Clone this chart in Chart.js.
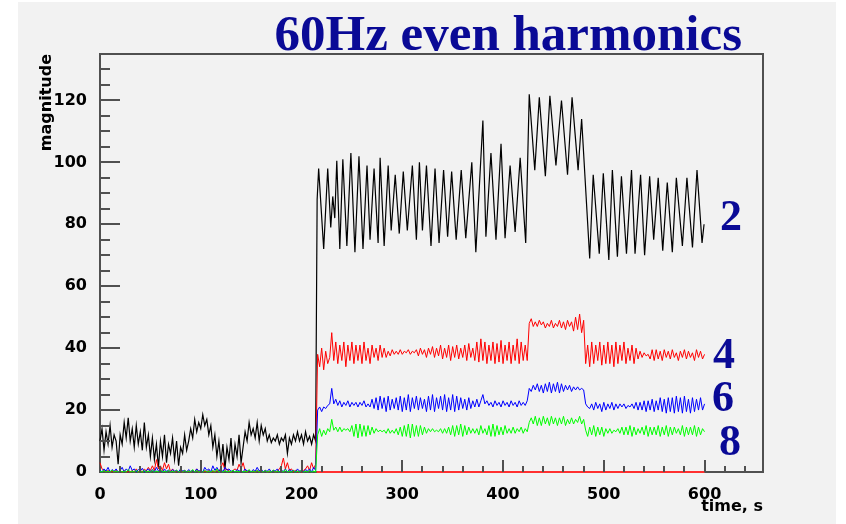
<!DOCTYPE html>
<html>
<head>
<meta charset="utf-8">
<title>60Hz even harmonics</title>
<script src="https://cdn.jsdelivr.net/npm/chart.js@4.4.1/dist/chart.umd.min.js"></script>
<style>
  html, body { margin: 0; padding: 0; background: #ffffff; }
  #wrap { width: 846px; height: 524px; }
</style>
</head>
<body>
<div id="wrap"><canvas id="harmonics" width="846" height="524"></canvas></div>
<script>
// Harmonic magnitudes, sampled every 2 s from 0 to 600 s
const sampleStep = 2;

// 4th harmonic (red)
const h4Values = [
  3, 1, 0.5, 0, 0.5, 0, 0.3, 0, 0.5, 0,
  0.3, 0, 0.5, 0, 0.2, 0, 0.5, 0, 1, 0,
  0.5, 0, 1, 0.3, 1.5, 0.5, 2, 0.5, 4, 1,
  2, 0.5, 3, 1, 2.5, 0, 1, 0, 0.3, 0,
  0.2, 0, 0.5, 0, 0.3, 0, 0.5, 0, 1, 0,
  0.5, 0, 0.3, 0, 0.5, 0, 0.3, 0, 0.5, 0,
  1.5, 3, 0.5, 1, 0.3, 0, 0.5, 1, 0.5, 2.5,
  1, 3, 0.5, 0, 0.5, 0, 0.3, 0, 0.5, 0,
  0.3, 0, 0.5, 0, 0.3, 0, 0.5, 0, 0.3, 1,
  2, 4.5, 1, 3, 0.5, 1, 0, 0.5, 0, 0.3,
  0, 0.5, 1, 2, 0.5, 3, 1, 2.5,
  38, 34, 40, 33, 39, 35, 37, 45, 36, 42,
  35, 41, 36, 42, 34, 41, 36, 42, 35, 41,
  36, 41, 35, 42, 36, 40, 35, 41, 37, 40,
  36, 41, 37, 40, 37, 39, 37.5, 39.5, 38, 39,
  38, 39.5, 38, 39, 38.5, 39.5, 38, 39, 38.5, 39.5,
  37.5, 40, 38, 39.5, 37, 40, 38, 40.5, 37, 40,
  37.5, 41, 36.5, 40, 37, 41, 36, 40.5, 37, 41,
  36.5, 40, 37, 41, 36, 41.5, 37, 40, 36, 42,
  35.5, 43, 36, 42, 35, 41, 36, 42, 35, 41.5,
  35.5, 42.5, 35, 41, 36, 42, 35, 41, 36, 43,
  35, 42, 36, 41, 36, 48, 49.5, 47, 48.5, 47,
  49, 47.5, 48.5, 46.5, 48, 47, 49, 46.5, 48, 47,
  49, 46.5, 48.5, 46, 49, 47, 48.5, 45.5, 50, 46,
  51, 45, 49, 35, 41, 34, 42, 35, 41, 36,
  42, 34.5, 41, 35, 42, 35, 41, 34, 42, 35,
  41, 36, 42, 35, 40, 36, 41, 35, 40, 36.5,
  39, 37, 38.5, 37.5, 38, 36.5, 39.5, 36, 39.5, 36.5,
  39, 36, 39.5, 37, 39, 36.5, 39.5, 37, 38.5, 36,
  39, 37, 39.5, 36.5, 39, 37, 38.5, 36, 39.5, 37,
  39, 36.5, 38
];

// 6th harmonic (blue)
const h6Values = [
  0.5, 0, 1, 0.3, 1.5, 0, 0.8, 0.2, 1, 0,
  0.5, 1.5, 0, 1, 0.3, 2, 0.5, 1, 0, 0.8,
  0.3, 1.2, 0, 0.5, 1, 0.2, 0.8, 0, 1.5, 0.3,
  0.5, 0, 1, 0.2, 0.6, 0, 0.8, 0.3, 0.5, 0,
  1, 0.3, 0.5, 0, 0.8, 0.2, 0.5, 0, 1, 0.3,
  0.5, 0, 1.5, 0.5, 1, 0, 2, 0.5, 1.5, 0.3,
  1, 0, 1.5, 0.5, 1, 0.2, 0.5, 0, 0.8, 0.3,
  0.5, 0, 1, 0.3, 0.5, 0, 0.8, 0.2, 1.5, 0.3,
  1, 0, 0.5, 0.2, 1, 0, 0.5, 0.3, 1, 0,
  0.5, 0.2, 1, 0, 0.8, 0.3, 0.5, 0, 1, 0.2,
  0.5, 0, 0.8, 0.3, 1, 0, 1.5, 0.5,
  20, 21, 19.5, 21, 20.5, 21.5, 22, 27, 22, 23.5,
  21.5, 23, 21, 22.5, 21.5, 23, 21, 22.5, 21.5, 22.5,
  21, 22.5, 21.5, 23, 21, 22, 21, 23.5, 20.5, 24,
  20, 24.5, 20.5, 24, 19.5, 24.5, 20, 23.5, 20.5, 24,
  20, 24.5, 19.5, 24, 20, 25, 19.5, 24, 20.5, 24.5,
  20, 24, 20.5, 23.5, 19.5, 24.5, 20, 25, 19.5, 24,
  20.5, 24.5, 20, 25, 19.5, 24, 20, 25, 19.5, 24.5,
  20, 24, 20.5, 23.5, 20, 24, 20.5, 23, 21, 23.5,
  21, 23, 25, 22, 23, 21.5, 22.5, 21, 23, 21.5,
  22.5, 21, 23, 21.5, 22.5, 21, 23, 21.5, 22.5, 21,
  23, 21.5, 22.5, 21.5, 23, 27, 26, 28, 26.5, 28.5,
  26, 28, 25.5, 28.5, 26, 29, 25.5, 28.5, 26, 29,
  25.5, 28.5, 26, 28, 26.5, 28, 26, 27.5, 26.5, 27.5,
  26.5, 27, 26.5, 22, 21, 20.5, 22, 20, 22.5, 20.5,
  22, 19.5, 22.5, 20, 22, 20.5, 22.5, 20, 22, 20.5,
  22, 21, 22, 20.5, 21.5, 21, 22, 20.5, 22.5, 20,
  22.5, 20, 23, 19.5, 23, 20, 23.5, 19.5, 23, 20,
  24, 19.5, 23.5, 19, 24, 19.5, 24, 19, 24.5, 19.5,
  24, 19, 24.5, 19.5, 23.5, 19, 24, 19.5, 23.5, 20,
  24, 20, 22
];

// 8th harmonic (green)
const h8Values = [
  0.3, 0, 0.5, 0, 0.3, 0, 0.6, 0, 0.3, 0,
  0.5, 0, 0.3, 0, 0.8, 0, 0.3, 0, 0.5, 0,
  0.3, 0, 0.5, 0, 0.3, 0, 0.6, 0, 0.3, 0,
  0.8, 0, 0.3, 0, 0.5, 0, 0.3, 0, 0.6, 0,
  0.3, 0, 0.5, 0, 0.3, 0, 0.8, 0, 0.5, 0,
  0.3, 0, 0.6, 0, 0.3, 0, 0.5, 0, 1, 0,
  0.3, 0, 0.5, 0, 0.3, 0, 0.6, 0, 0.3, 0,
  0.5, 0, 0.3, 0, 0.8, 0, 0.3, 0, 0.5, 0,
  0.3, 0, 0.5, 0, 0.3, 0, 0.6, 0, 0.3, 0,
  0.5, 0, 0.8, 0, 0.3, 0, 0.5, 0, 0.3, 0,
  0.6, 0, 0.3, 0, 0.5, 0, 0.3, 0,
  12, 14, 11.5, 13.5, 12, 14, 13, 17, 13.5, 14.5,
  13, 14.5, 13, 14, 13.5, 14, 13, 15, 11.5, 15.5,
  11, 15.5, 11.5, 15, 11.5, 15, 12, 14.5, 12.5, 14,
  13, 13.5, 13, 13.5, 12.5, 14, 12.5, 13.5, 12.5, 14,
  12, 14.5, 11.5, 15, 11.5, 15.5, 11, 15.5, 11.5, 15,
  11.5, 15, 12, 14.5, 12.5, 14, 13, 14, 13, 13.5,
  13, 14, 12.5, 14, 12.5, 14.5, 12, 15, 11.5, 15,
  12, 15.5, 11.5, 15, 12, 14.5, 12.5, 14, 12.5, 14,
  12, 15, 12.5, 14, 12, 15, 11.5, 15.5, 11.5, 15,
  12, 14.5, 12, 15, 12.5, 14, 12.5, 14.5, 12.5, 14,
  13, 14.5, 12.5, 14, 13, 16, 17.5, 15.5, 18, 15,
  17.5, 15, 18, 15.5, 17.5, 15, 18, 15.5, 17.5, 15,
  17.5, 15.5, 18, 15, 17, 15.5, 17.5, 15.5, 17, 16,
  18, 15.5, 17, 13.5, 11.5, 14.5, 12, 15, 11.5, 14.5,
  12, 14.5, 11.5, 14, 12.5, 14, 12.5, 13.5, 13, 14,
  12.5, 14.5, 12, 14.5, 12, 15, 11.5, 14.5, 12, 14,
  12.5, 14.5, 12, 15, 11.5, 14.5, 12, 14.5, 12, 15,
  11.5, 14.5, 12, 15, 11.5, 14.5, 12, 14.5, 12.5, 14,
  12, 15, 11.5, 14.5, 12, 14.5, 12, 15, 11.5, 14.5,
  12, 14, 13
];

// 2nd harmonic (black): noisy part on the 2 s grid, 0..214 s
const h2NoiseValues = [
  10, 14, 7, 13, 9, 15, 8, 12, 10, 2.5,
  12, 9, 16, 11, 17.5, 10, 14, 8, 15, 9,
  13, 7, 16, 8, 12, 5, 11, 4, 9, 1.5,
  10, 5, 12, 3, 9, 6, 11, 4, 10, 2,
  8, 6, 12, 7, 10, 14, 11, 17, 13, 16,
  14, 18.5, 15, 17, 12, 15, 8, 12, 5, 10,
  3, 9, 1, 8, 4, 11, 2, 9, 5, 12,
  3, 8, 13, 10, 16, 12, 14, 11, 16, 10,
  15, 12, 14, 10, 12, 9.5, 11, 10, 12, 9,
  11, 10, 12, 6, 11, 9, 12, 10, 13, 10,
  12, 9, 13, 10, 11.5, 9, 12, 10
];

// 2nd harmonic after the switch-on: swing extremes (time s, magnitude)
const h2SwingTimes = [
  215.5, 217, 222, 226, 229, 231, 233, 235, 238, 241,
  245, 249, 253, 257, 261, 265, 268, 272, 276, 278,
  282, 286, 289, 293, 297, 301, 305, 310, 314, 317,
  320, 324, 328.5, 332.5, 336.5, 341, 345, 349, 353.5, 358.5,
  363, 369, 373, 380, 383, 388, 393, 398, 402, 407,
  412, 417, 422.5, 426, 431.5, 436, 442, 446.5, 452.5, 458,
  464, 468.5, 474.5, 478, 486, 489.5, 495.5, 499.5, 505, 508.5,
  513.5, 517.5, 522.5, 527.5, 531, 536.5, 540.5, 545.5, 549.5, 554,
  558.5, 563, 568, 572, 578, 582.5, 588, 592.5, 597.5, 599.5
];
const h2SwingValues = [
  88, 98, 72, 98, 79, 89, 82, 100.5, 72, 101,
  73, 103, 71, 102, 72, 99, 75, 98, 74, 101.5,
  73, 99, 78, 96, 77, 97, 78, 99, 75, 100,
  78, 99, 73, 98, 74, 97.5, 76, 97, 75, 97.5,
  75.5, 100, 71, 113.5, 76, 103, 75, 106, 75.5, 99,
  77.5, 101.5, 74, 122, 97.5, 121, 95.5, 121.5, 99, 120,
  96, 121, 97.5, 114, 69, 96, 70.5, 96.5, 68.5, 97.5,
  69.5, 95.5, 70.5, 97.5, 70.5, 96, 70, 95.5, 75, 95,
  71.5, 93.5, 71, 95, 73, 95, 72.5, 97.5, 74, 80
];

// zero line of the 4th harmonic histogram after switch-on
const baselineTimes = [215, 600];
const baselineValues = [0, 0];

const xTicks = [0, 100, 200, 300, 400, 500, 600];
const yTicks = [0, 20, 40, 60, 80, 100, 120];
const seriesLabels = ['2', '4', '6', '8'];

function onGrid(values) {
  return values.map((v, i) => ({ x: i * sampleStep, y: v }));
}
function pairs(times, values) {
  return times.map((t, i) => ({ x: t, y: values[i] }));
}

const h2Points = onGrid(h2NoiseValues).concat(pairs(h2SwingTimes, h2SwingValues));

const ink = '#0a0a96';
const tickFont = { family: 'DejaVu Sans', weight: 'bold', size: 16 };

// frame, inner tick marks and the blue annotations
const framePlugin = {
  id: 'framePlugin',
  beforeDraw(chart) {
    const ctx = chart.ctx;
    ctx.save();
    ctx.fillStyle = '#f2f2f2';
    ctx.fillRect(18, 2, 818, 522);
    ctx.restore();
  },
  beforeDatasetsDraw(chart) {
    const { ctx, chartArea: a } = chart;
    ctx.save();
    ctx.strokeStyle = '#505050';
    ctx.lineWidth = 2;
    ctx.strokeRect(a.left, a.top, a.right - a.left, a.bottom - a.top);
    ctx.restore();
  },
  afterDatasetsDraw(chart) {
    const { ctx, chartArea: a, scales } = chart;
    ctx.save();
    ctx.strokeStyle = '#505050';
    ctx.lineWidth = 2;
    ctx.beginPath();
    for (let v = 5; v <= scales.y.max; v += 5) {
      const y = Math.round(scales.y.getPixelForValue(v));
      const len = v % 20 === 0 ? 20 : 10;
      ctx.moveTo(a.left, y);
      ctx.lineTo(a.left + len, y);
    }
    for (let v = 20; v <= scales.x.max; v += 20) {
      const x = Math.round(scales.x.getPixelForValue(v));
      const len = v % 100 === 0 ? 12 : 6;
      ctx.moveTo(x, a.bottom);
      ctx.lineTo(x, a.bottom - len);
    }
    ctx.stroke();

    ctx.fillStyle = ink;
    ctx.textBaseline = 'alphabetic';
    ctx.textAlign = 'right';
    ctx.font = 'bold 51px "Liberation Serif"';
    ctx.fillText('60Hz even harmonics', 742, 50);

    ctx.textAlign = 'left';
    ctx.font = 'bold 44px "Liberation Serif"';
    const spots = [[720, 230], [713, 368], [712, 411], [719, 455]];
    seriesLabels.forEach((s, i) => ctx.fillText(s, spots[i][0], spots[i][1]));
    ctx.restore();
  }
};

const lineStyle = { borderWidth: 1, pointRadius: 0, tension: 0, fill: false, clip: false };

new Chart(document.getElementById('harmonics'), {
  type: 'line',
  data: {
    datasets: [
      { ...lineStyle, label: '8', data: onGrid(h8Values), borderColor: '#00ff00' },
      { ...lineStyle, label: '6', data: onGrid(h6Values), borderColor: '#0000ff' },
      { ...lineStyle, label: '4', data: onGrid(h4Values), borderColor: '#ff0000' },
      { ...lineStyle, label: 'base', data: pairs(baselineTimes, baselineValues), borderColor: '#ff3030', borderWidth: 2 },
      { ...lineStyle, label: '2', data: h2Points, borderColor: '#000000', borderWidth: 1.2 }
    ]
  },
  options: {
    responsive: false,
    animation: false,
    events: [],
    layout: { padding: { left: 0, top: 54, right: 83, bottom: 0 } },
    plugins: { legend: { display: false }, tooltip: { enabled: false } },
    scales: {
      x: {
        type: 'linear',
        min: 0,
        max: 658,
        grid: { display: false },
        border: { display: false },
        afterBuildTicks: s => { s.ticks = xTicks.map(v => ({ value: v })); },
        afterFit: s => { s.height = 52; },
        ticks: { color: '#000', font: tickFont, padding: 5, maxRotation: 0, autoSkip: false },
        title: { display: true, text: 'time, s', align: 'end', color: '#000', font: tickFont, padding: { top: 0, bottom: 8 } }
      },
      y: {
        type: 'linear',
        min: 0,
        max: 135,
        grid: { display: false },
        border: { display: false },
        afterBuildTicks: s => { s.ticks = yTicks.map(v => ({ value: v })); },
        afterFit: s => { s.width = 100; },
        ticks: { color: '#000', font: tickFont, padding: 5, autoSkip: false },
        title: { display: true, text: 'magnitude', align: 'end', color: '#000', font: tickFont, padding: { top: 37, bottom: 0 } }
      }
    }
  },
  plugins: [framePlugin]
});
</script>
</body>
</html>
